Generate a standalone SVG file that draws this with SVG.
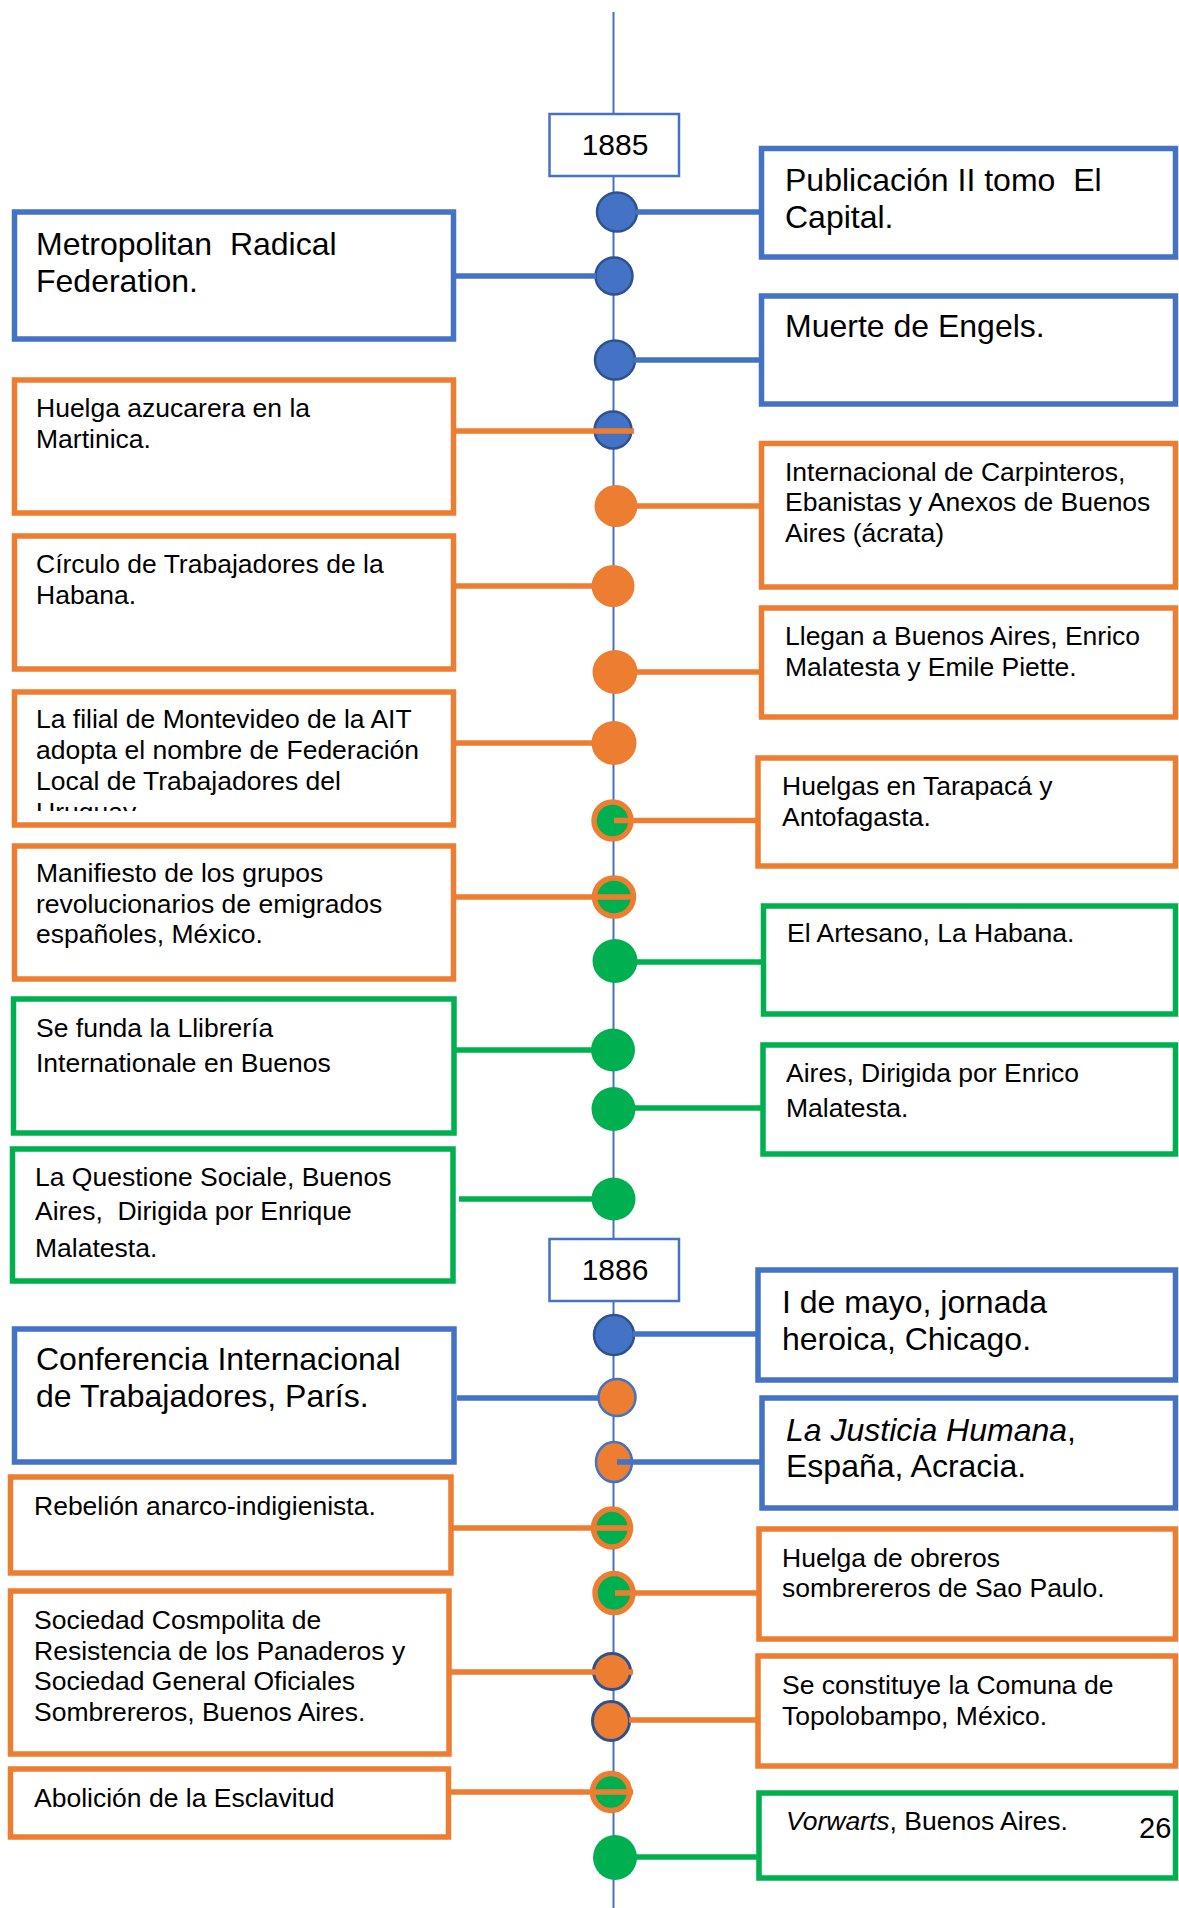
<svg xmlns="http://www.w3.org/2000/svg" width="1179" height="1908" viewBox="0 0 1179 1908">
<defs>
<style>
text{font-family:"Liberation Sans",Arial,sans-serif;fill:#000;white-space:pre}
.s{font-size:26.5px}
.l{font-size:32px}
.y{font-size:30px}
.bb{fill:#fff;stroke:#4472C4;stroke-width:5.5}
.bo{fill:#fff;stroke:#ED7D31;stroke-width:5.5}
.bg{fill:#fff;stroke:#00B050;stroke-width:5.5}
.yr{fill:#fff;stroke:#4472C4;stroke-width:2.5}
.cb{fill:#4472C4;stroke:#2F528F;stroke-width:2.5}
.co{fill:#ED7D31}
.cg{fill:#00B050}
.cgo{fill:#00B050;stroke:#ED7D31;stroke-width:5.5}
.cob{fill:#ED7D31;stroke:#4472C4;stroke-width:2.5}
.cod{fill:#ED7D31;stroke:#2F528F;stroke-width:3}
.kb{stroke:#4472C4;stroke-width:5.5;fill:none}
.ko{stroke:#ED7D31;stroke-width:5.5;fill:none}
.kg{stroke:#00B050;stroke-width:5.5;fill:none}
</style>
<clipPath id="clipFilial"><rect x="14" y="692" width="439" height="119"/></clipPath>
</defs>
<rect width="1179" height="1908" fill="#fff"/>

<g id="timeline">
<line x1="613.5" y1="12" x2="613.5" y2="1908" stroke="#4472C4" stroke-width="2"/>
</g>

<g id="year-1885"><rect class="yr" x="549.5" y="114" width="129.5" height="62"/><text class="y" x="615" y="155" text-anchor="middle">1885</text></g>
<g id="year-1886"><rect class="yr" x="549.5" y="1239" width="129.5" height="62"/><text class="y" x="615" y="1280" text-anchor="middle">1886</text></g>

<g id="dots">
<ellipse id="d1" class="cb" cx="617" cy="212" rx="20" ry="19.5"/>
<ellipse id="d2" class="cb" cx="614" cy="276" rx="18.5" ry="18.5"/>
<ellipse id="d3" class="cb" cx="615" cy="360" rx="20" ry="19.5"/>
<ellipse id="d4" class="cb" cx="613" cy="430" rx="18.5" ry="18.5"/>
<ellipse id="d5" class="co" cx="616" cy="506" rx="21.5" ry="21"/>
<ellipse id="d6" class="co" cx="613" cy="586" rx="21.5" ry="21"/>
<ellipse id="d7" class="co" cx="615" cy="672" rx="22.5" ry="22"/>
<ellipse id="d8" class="co" cx="614" cy="743" rx="22.5" ry="22"/>
<ellipse id="d9" class="cgo" cx="612.5" cy="820.5" rx="18.5" ry="18.5"/>
<ellipse id="d10" class="cgo" cx="614" cy="897" rx="19.5" ry="19"/>
<ellipse id="d11" class="cg" cx="615" cy="961" rx="22.5" ry="22"/>
<ellipse id="d12" class="cg" cx="613" cy="1050" rx="22" ry="21.5"/>
<ellipse id="d13" class="cg" cx="613.5" cy="1109" rx="22" ry="22"/>
<ellipse id="d14" class="cg" cx="613.5" cy="1199" rx="22" ry="21.5"/>
<ellipse id="d15" class="cb" cx="614" cy="1335" rx="20" ry="20"/>
<ellipse id="d16" class="cob" cx="617" cy="1397.5" rx="18.5" ry="18.5"/>
<ellipse id="d17" class="cob" cx="614" cy="1462" rx="18" ry="20"/>
<ellipse id="d18" class="cgo" cx="612" cy="1528" rx="18.5" ry="19"/>
<ellipse id="d19" class="cgo" cx="614" cy="1593" rx="19" ry="19.5"/>
<ellipse id="d20" class="cod" cx="612" cy="1671.5" rx="18.5" ry="18"/>
<ellipse id="d21" class="cod" cx="611" cy="1721" rx="18.5" ry="19.5"/>
<ellipse id="d22" class="cgo" cx="611" cy="1792" rx="18.5" ry="18.5"/>
<ellipse id="d23" class="cg" cx="615" cy="1857.5" rx="22" ry="22.5"/>
</g>

<g id="connectors">
<line class="kb" x1="636" y1="212" x2="760" y2="212"/>
<line class="kb" x1="455" y1="276" x2="596" y2="276"/>
<line class="kb" x1="634" y1="360" x2="760" y2="360"/>
<line class="ko" x1="455" y1="431" x2="634" y2="431"/>
<line class="ko" x1="636" y1="506" x2="760" y2="506"/>
<line class="ko" x1="455" y1="586" x2="593" y2="586"/>
<line class="ko" x1="636" y1="672" x2="760" y2="672"/>
<line class="ko" x1="455" y1="743" x2="593" y2="743"/>
<line class="ko" x1="614" y1="820.5" x2="757" y2="820.5"/>
<line class="ko" x1="455" y1="897" x2="634" y2="897"/>
<line class="kg" x1="636" y1="962" x2="762" y2="962"/>
<line class="kg" x1="455" y1="1050" x2="593" y2="1050"/>
<line class="kg" x1="634" y1="1108" x2="762" y2="1108"/>
<line class="kg" x1="459" y1="1199" x2="593" y2="1199"/>
<line class="kb" x1="633" y1="1334" x2="757" y2="1334"/>
<line class="kb" x1="457" y1="1398" x2="598" y2="1398"/>
<line class="kb" x1="617" y1="1462" x2="760" y2="1462"/>
<line class="ko" x1="453" y1="1528" x2="633" y2="1528"/>
<line class="ko" x1="615" y1="1593" x2="758" y2="1593"/>
<line class="ko" x1="451" y1="1672" x2="633" y2="1672"/>
<line class="ko" x1="629" y1="1720" x2="757" y2="1720"/>
<line class="ko" x1="451" y1="1792" x2="633" y2="1792"/>
<line class="kg" x1="636" y1="1857" x2="758" y2="1857"/>
</g>

<g id="n-publicacion"><rect class="bb" x="761.5" y="148.5" width="414" height="108.5"/>
<text class="l" x="785" y="191">Publicación II tomo  El</text><text class="l" x="785" y="228">Capital.</text></g>

<g id="n-metropolitan"><rect class="bb" x="14.5" y="212" width="439" height="127"/>
<text class="l" x="36" y="255">Metropolitan  Radical</text><text class="l" x="36" y="292">Federation.</text></g>

<g id="n-engels"><rect class="bb" x="761.5" y="296" width="414" height="108"/>
<text class="l" x="785" y="337">Muerte de Engels.</text></g>

<g id="n-azucarera"><rect class="bo" x="14.5" y="380" width="439" height="133"/>
<text class="s" x="36" y="417">Huelga azucarera en la</text><text class="s" x="36" y="448">Martinica.</text></g>

<g id="n-carpinteros"><rect class="bo" x="761.5" y="443.5" width="414" height="143.5"/>
<text class="s" x="785" y="481">Internacional de Carpinteros,</text><text class="s" x="785" y="511">Ebanistas y Anexos de Buenos</text><text class="s" x="785" y="541.5">Aires (ácrata)</text></g>

<g id="n-circulo"><rect class="bo" x="14.5" y="536" width="439" height="133"/>
<text class="s" x="36" y="573">Círculo de Trabajadores de la</text><text class="s" x="36" y="604">Habana.</text></g>

<g id="n-llegan"><rect class="bo" x="761.5" y="608" width="414" height="109"/>
<text class="s" x="785" y="645">Llegan a Buenos Aires, Enrico</text><text class="s" x="785" y="675.5">Malatesta y Emile Piette.</text></g>

<g id="n-filial"><rect class="bo" x="14.5" y="692" width="439" height="133"/>
<g clip-path="url(#clipFilial)">
<text class="s" x="36" y="728">La filial de Montevideo de la AIT</text><text class="s" x="36" y="759">adopta el nombre de Federación</text><text class="s" x="36" y="790">Local de Trabajadores del</text><text class="s" x="36" y="821">Uruguay</text></g></g>

<g id="n-tarapaca"><rect class="bo" x="758" y="758" width="417.5" height="108"/>
<text class="s" x="782" y="795">Huelgas en Tarapacá y</text><text class="s" x="782" y="825.5">Antofagasta.</text></g>

<g id="n-manifiesto"><rect class="bo" x="14.5" y="846" width="439" height="133"/>
<text class="s" x="36" y="882">Manifiesto de los grupos</text><text class="s" x="36" y="912.5">revolucionarios de emigrados</text><text class="s" x="36" y="943">españoles, México.</text></g>

<g id="n-artesano"><rect class="bg" x="763.5" y="906" width="412" height="108"/>
<text class="s" x="787" y="942">El Artesano, La Habana.</text></g>

<g id="n-llibreria"><rect class="bg" x="13.5" y="999" width="440.5" height="134"/>
<text class="s" x="36" y="1036.5">Se funda la Llibrería</text><text class="s" x="36" y="1071.5">Internationale en Buenos</text></g>

<g id="n-dirigida"><rect class="bg" x="763" y="1045" width="412.5" height="109"/>
<text class="s" x="786" y="1081.5">Aires, Dirigida por Enrico</text><text class="s" x="786" y="1117">Malatesta.</text></g>

<g id="n-questione"><rect class="bg" x="12.5" y="1149" width="440.5" height="132"/>
<text class="s" x="35" y="1185.5">La Questione Sociale, Buenos</text><text class="s" x="35" y="1220">Aires,  Dirigida por Enrique</text><text class="s" x="35" y="1256.5">Malatesta.</text></g>

<g id="n-mayo"><rect class="bb" x="758" y="1270" width="417.5" height="110"/>
<text class="l" x="782" y="1313">I de mayo, jornada</text><text class="l" x="782" y="1350">heroica, Chicago.</text></g>

<g id="n-conferencia"><rect class="bb" x="14.5" y="1329" width="439.5" height="133"/>
<text class="l" x="36" y="1370">Conferencia Internacional</text><text class="l" x="36" y="1406.5">de Trabajadores, París.</text></g>

<g id="n-justicia"><rect class="bb" x="762" y="1398" width="413.5" height="110"/>
<text class="l" x="786" y="1441"><tspan font-style="italic">La Justicia Humana</tspan>,</text><text class="l" x="786" y="1477">España, Acracia.</text></g>

<g id="n-rebelion"><rect class="bo" x="10.5" y="1477" width="440.5" height="96"/>
<text class="s" x="34" y="1515">Rebelión anarco-indigienista.</text></g>

<g id="n-sombrereros-sp"><rect class="bo" x="759" y="1529" width="416.5" height="110"/>
<text class="s" x="782" y="1566.5">Huelga de obreros</text><text class="s" x="782" y="1597">sombrereros de Sao Paulo.</text></g>

<g id="n-sociedad"><rect class="bo" x="10.5" y="1591" width="438.5" height="163"/>
<text class="s" x="34" y="1629">Sociedad Cosmpolita de</text><text class="s" x="34" y="1660">Resistencia de los Panaderos y</text><text class="s" x="34" y="1690">Sociedad General Oficiales</text><text class="s" x="34" y="1720.5">Sombrereros, Buenos Aires.</text></g>

<g id="n-topolobampo"><rect class="bo" x="758" y="1656" width="417.5" height="110"/>
<text class="s" x="782" y="1694">Se constituye la Comuna de</text><text class="s" x="782" y="1725">Topolobampo, México.</text></g>

<g id="n-abolicion"><rect class="bo" x="10.5" y="1769" width="438" height="68"/>
<text class="s" x="34" y="1806.5">Abolición de la Esclavitud</text></g>

<g id="n-vorwarts"><rect class="bg" x="759" y="1793" width="416.5" height="85"/>
<text class="s" x="786" y="1830"><tspan font-style="italic">Vorwarts</tspan>, Buenos Aires.</text></g>

<g id="page-number"><text x="1139" y="1838" font-size="29">26</text></g>
</svg>
